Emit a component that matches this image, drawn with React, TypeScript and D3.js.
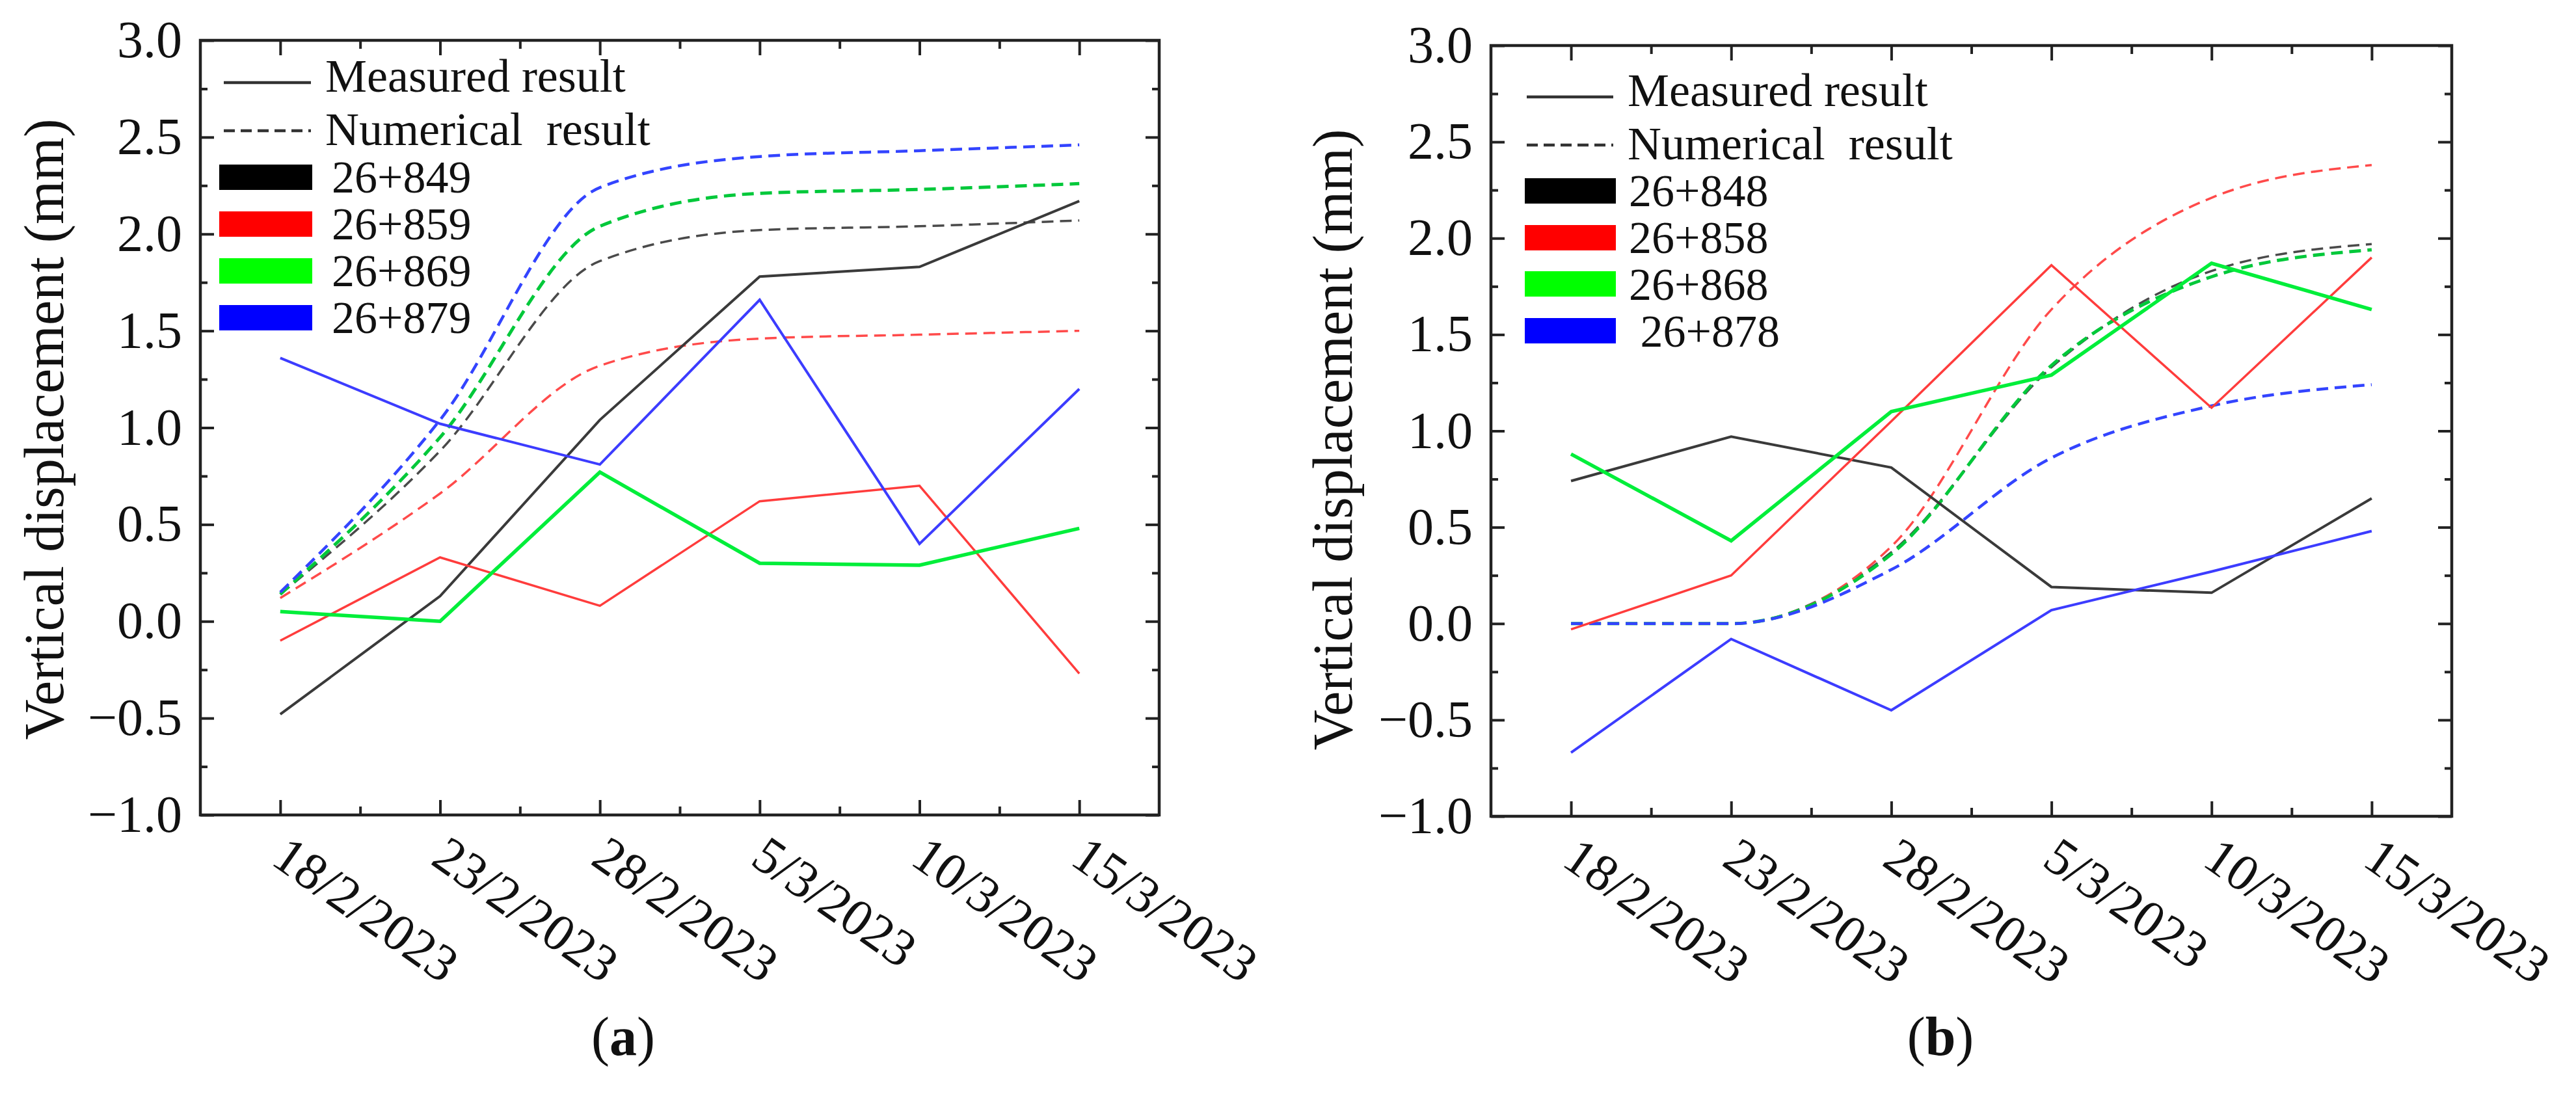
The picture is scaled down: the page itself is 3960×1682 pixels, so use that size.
import React, { useEffect, useRef } from "react";
import * as d3 from "d3";

// shared axes
const dates = ["18/2/2023", "23/2/2023", "28/2/2023", "5/3/2023", "10/3/2023", "15/3/2023"];
const yTicks = [-1.0, -0.5, 0.0, 0.5, 1.0, 1.5, 2.0, 2.5, 3.0];
const yMinorTicks = [-0.75, -0.25, 0.25, 0.75, 1.25, 1.75, 2.25, 2.75];
const xMinorTicks = [0.5, 1.5, 2.5, 3.5, 4.5];

// panel (a)
const stationsA = ["26+849", "26+859", "26+869", "26+879"];
const measuredA849 = [-0.48, 0.13, 1.04, 1.78, 1.83, 2.17];
const numericalA849 = [0.14, 0.88, 1.86, 2.02, 2.04, 2.07];
const measuredA859 = [-0.1, 0.33, 0.08, 0.62, 0.7, -0.27];
const numericalA859 = [0.12, 0.66, 1.32, 1.46, 1.48, 1.5];
const measuredA869 = [0.05, 0.0, 0.77, 0.3, 0.29, 0.48];
const numericalA869 = [0.14, 0.95, 2.04, 2.21, 2.23, 2.26];
const measuredA879 = [1.36, 1.02, 0.81, 1.66, 0.4, 1.2];
const numericalA879 = [0.15, 1.04, 2.24, 2.4, 2.43, 2.46];

// panel (b)
const stationsB = ["26+848", "26+858", "26+868", " 26+878"];
const measuredB848 = [0.74, 0.97, 0.81, 0.19, 0.16, 0.65];
const numericalB848 = [0.0, 0.0, 0.37, 1.33, 1.83, 1.97];
const measuredB858 = [-0.03, 0.25, 1.05, 1.86, 1.12, 1.9];
const numericalB858 = [0.0, 0.0, 0.4, 1.63, 2.21, 2.38];
const measuredB868 = [0.88, 0.43, 1.1, 1.29, 1.87, 1.63];
const numericalB868 = [0.0, 0.0, 0.36, 1.34, 1.8, 1.94];
const measuredB878 = [-0.67, -0.08, -0.45, 0.07, 0.27, 0.48];
const numericalB878 = [0.0, 0.0, 0.28, 0.86, 1.13, 1.24];

const solidColors = ["#3a3a3a", "#ff3c3c", "#00ee3a", "#3c3cff"];
const dashColors = ["#4a4a4a", "#ff4a4a", "#00c83a", "#3344ff"];
const solidWidths = [4, 3.5, 5.5, 4];
const dashWidths = [3.5, 3.5, 5, 4.5];
const boxColors = ["#000000", "#ff0000", "#00ff00", "#0000ff"];

const FONT = "'Liberation Serif', 'Times New Roman', Times, serif";

type Panel = {
  left: number;
  right: number;
  top: number;
  bottom: number;
  measured: number[][];
  numerical: number[][];
  stations: string[];
  labelX: number;
  labelY: number;
  caption: string;
  captionX: number;
  legend: {
    lineX0: number;
    lineX1: number;
    textX: number;
    measuredY: number;
    measuredBase: number;
    numericalY: number;
    numericalBase: number;
    boxX0: number;
    boxX1: number;
    boxTops: number[];
    textXs: number[];
    textBases: number[];
  };
};

const panels: Panel[] = [
  {
    left: 308,
    right: 1782,
    top: 62,
    bottom: 1253,
    measured: [measuredA849, measuredA859, measuredA869, measuredA879],
    numerical: [numericalA849, numericalA859, numericalA869, numericalA879],
    stations: stationsA,
    labelX: 97,
    labelY: 660,
    caption: "a",
    captionX: 958,
    legend: {
      lineX0: 344,
      lineX1: 478,
      textX: 500,
      measuredY: 127,
      measuredBase: 141,
      numericalY: 201,
      numericalBase: 223,
      boxX0: 337,
      boxX1: 480,
      boxTops: [253, 325, 397, 469],
      textXs: [510, 510, 510, 510],
      textBases: [296, 368, 440, 512],
    },
  },
  {
    left: 2292,
    right: 3769,
    top: 70,
    bottom: 1255,
    measured: [measuredB848, measuredB858, measuredB868, measuredB878],
    numerical: [numericalB848, numericalB858, numericalB868, numericalB878],
    stations: stationsB,
    labelX: 2078,
    labelY: 676,
    caption: "b",
    captionX: 2983,
    legend: {
      lineX0: 2347,
      lineX1: 2480,
      textX: 2502,
      measuredY: 149,
      measuredBase: 163,
      numericalY: 223,
      numericalBase: 245,
      boxX0: 2344,
      boxX1: 2484,
      boxTops: [274, 346, 417, 489],
      textXs: [2504, 2504, 2504, 2504],
      textBases: [317, 389, 461, 533],
    },
  },
];

function drawPanel(svg: d3.Selection<SVGSVGElement, unknown, null, undefined>, p: Panel) {
  const x = d3.scaleLinear().domain([-0.5, 5.5]).range([p.left, p.right]);
  const y = d3.scaleLinear().domain([-1, 3]).range([p.bottom, p.top]);
  const g = svg.append("g");

  const styleAxis = (sel: d3.Selection<SVGGElement, unknown, null, undefined>, w: number) => {
    sel.select(".domain").remove();
    sel.selectAll("line").attr("stroke", "#222").attr("stroke-width", w);
    sel.attr("font-family", FONT).attr("font-size", 80);
    sel.selectAll("text").attr("fill", "#111");
  };

  // left axis with labels
  g.append("g")
    .attr("transform", `translate(${p.left},0)`)
    .call(
      d3
        .axisLeft(y)
        .tickValues(yTicks)
        .tickSizeInner(-21)
        .tickSizeOuter(0)
        .tickPadding(28)
        .tickFormat(d3.format(".1f"))
    )
    .call((s) => styleAxis(s, 4));
  g.append("g")
    .attr("transform", `translate(${p.left},0)`)
    .call(d3.axisLeft(y).tickValues(yMinorTicks).tickSizeInner(-11).tickSizeOuter(0).tickFormat(() => ""))
    .call((s) => styleAxis(s, 4));
  // right axis
  g.append("g")
    .attr("transform", `translate(${p.right},0)`)
    .call(d3.axisRight(y).tickValues(yTicks).tickSizeInner(-21).tickSizeOuter(0).tickFormat(() => ""))
    .call((s) => styleAxis(s, 4));
  g.append("g")
    .attr("transform", `translate(${p.right},0)`)
    .call(d3.axisRight(y).tickValues(yMinorTicks).tickSizeInner(-11).tickSizeOuter(0).tickFormat(() => ""))
    .call((s) => styleAxis(s, 4));

  // bottom axis with rotated date labels
  const xMajor = dates.map((_, i) => i);
  g.append("g")
    .attr("transform", `translate(0,${p.bottom})`)
    .call(
      d3
        .axisBottom(x)
        .tickValues(xMajor)
        .tickSizeInner(-23)
        .tickSizeOuter(0)
        .tickFormat((d) => dates[d as number])
    )
    .call((s) => styleAxis(s, 4))
    .call((s) =>
      s
        .selectAll("text")
        .attr("x", 0)
        .attr("y", 0)
        .attr("dy", 0)
        .attr("text-anchor", "start")
        .attr("transform", "translate(-17,74) rotate(35)")
    );
  g.append("g")
    .attr("transform", `translate(0,${p.bottom})`)
    .call(d3.axisBottom(x).tickValues(xMinorTicks).tickSizeInner(-13).tickSizeOuter(0).tickFormat(() => ""))
    .call((s) => styleAxis(s, 4));
  // top axis
  g.append("g")
    .attr("transform", `translate(0,${p.top})`)
    .call(d3.axisTop(x).tickValues(xMajor).tickSizeInner(-23).tickSizeOuter(0).tickFormat(() => ""))
    .call((s) => styleAxis(s, 4));
  g.append("g")
    .attr("transform", `translate(0,${p.top})`)
    .call(d3.axisTop(x).tickValues(xMinorTicks).tickSizeInner(-13).tickSizeOuter(0).tickFormat(() => ""))
    .call((s) => styleAxis(s, 4));

  // frame
  g.append("rect")
    .attr("x", p.left)
    .attr("y", p.top)
    .attr("width", p.right - p.left)
    .attr("height", p.bottom - p.top)
    .attr("fill", "none")
    .attr("stroke", "#222")
    .attr("stroke-width", 4.5);

  // data lines: numerical results are smoothed, measured are straight segments
  const dashedLine = d3
    .line<number>()
    .x((_, i) => x(i))
    .y((d) => y(d))
    .curve(d3.curveMonotoneX);
  const solidLine = d3
    .line<number>()
    .x((_, i) => x(i))
    .y((d) => y(d));

  p.numerical.forEach((vals, k) => {
    g.append("path")
      .attr("d", dashedLine(vals))
      .attr("fill", "none")
      .attr("stroke", dashColors[k])
      .attr("stroke-width", dashWidths[k])
      .attr("stroke-dasharray", "18 10");
  });
  p.measured.forEach((vals, k) => {
    g.append("path")
      .attr("d", solidLine(vals))
      .attr("fill", "none")
      .attr("stroke", solidColors[k])
      .attr("stroke-width", solidWidths[k])
      .attr("stroke-linejoin", "miter");
  });

  // legend
  const L = p.legend;
  const lg = g.append("g").attr("font-family", FONT).attr("font-size", 72).attr("fill", "#111");
  lg.append("line")
    .attr("x1", L.lineX0)
    .attr("x2", L.lineX1)
    .attr("y1", L.measuredY)
    .attr("y2", L.measuredY)
    .attr("stroke", "#333")
    .attr("stroke-width", 4.5);
  lg.append("text").attr("x", L.textX).attr("y", L.measuredBase).text("Measured result");
  lg.append("line")
    .attr("x1", L.lineX0)
    .attr("x2", L.lineX1)
    .attr("y1", L.numericalY)
    .attr("y2", L.numericalY)
    .attr("stroke", "#333")
    .attr("stroke-width", 4.5)
    .attr("stroke-dasharray", "17 9");
  lg.append("text")
    .attr("x", L.textX)
    .attr("y", L.numericalBase)
    .style("white-space", "pre")
    .text("Numerical  result");
  p.stations.forEach((s, k) => {
    lg.append("rect")
      .attr("x", L.boxX0)
      .attr("y", L.boxTops[k])
      .attr("width", L.boxX1 - L.boxX0)
      .attr("height", 39)
      .attr("fill", boxColors[k]);
    lg.append("text")
      .attr("x", L.textXs[k])
      .attr("y", L.textBases[k])
      .attr("font-size", 70)
      .style("white-space", "pre")
      .text(s);
  });

  // y axis title
  svg
    .append("text")
    .attr("transform", `translate(${p.labelX},${p.labelY}) rotate(-90)`)
    .attr("text-anchor", "middle")
    .attr("font-family", FONT)
    .attr("font-size", 86)
    .attr("fill", "#111")
    .text("Vertical displacement (mm)");

  // caption
  const cap = svg
    .append("text")
    .attr("x", p.captionX)
    .attr("y", 1622)
    .attr("text-anchor", "middle")
    .attr("font-family", FONT)
    .attr("font-size", 84)
    .attr("fill", "#111");
  cap.append("tspan").text("(");
  cap.append("tspan").attr("font-weight", "bold").text(p.caption);
  cap.append("tspan").text(")");
}

export default function App() {
  const svgRef = useRef<SVGSVGElement>(null);

  useEffect(() => {
    if (!svgRef.current) return;
    const svg = d3.select(svgRef.current);
    svg.selectAll("*").remove();
    panels.forEach((p) => drawPanel(svg, p));
  }, []);

  return (
    <svg
      ref={svgRef}
      width={3960}
      height={1682}
      style={{ position: "absolute", left: 0, top: 0, background: "#fff", display: "block" }}
    />
  );
}
